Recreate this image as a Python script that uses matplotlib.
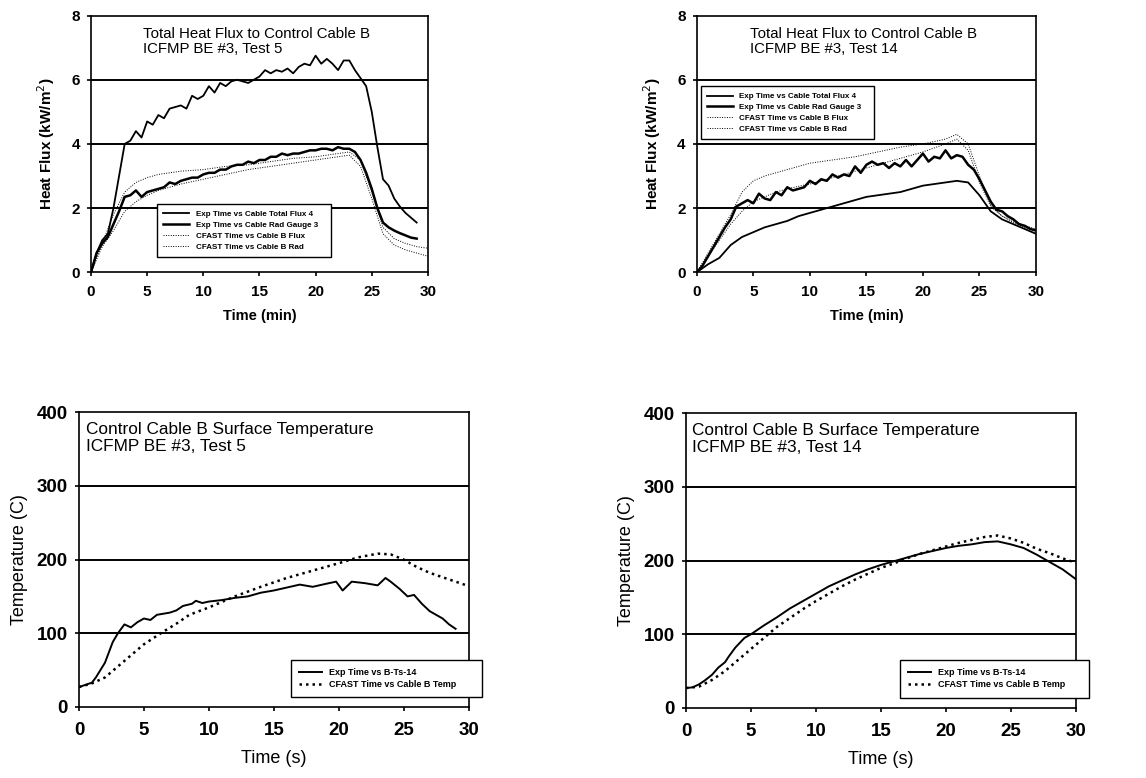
import matplotlib
matplotlib.use("Agg")
import matplotlib.pyplot as plt

plt.rcParams['font.family'] = ['Liberation Sans', 'DejaVu Sans']

# ---- Test 5 heat flux (min, kW/m2) ----
t5_exp = [0, 0.5, 1, 1.5, 2, 2.5, 3, 3.5, 4, 4.5, 5, 5.5, 6, 6.5, 7, 7.5, 8, 8.5, 9, 9.5,
          10, 10.5, 11, 11.5, 12, 12.5, 13, 13.5, 14, 14.5, 15, 15.5, 16, 16.5, 17, 17.5,
          18, 18.5, 19, 19.5, 20, 20.5, 21, 21.5, 22, 22.5, 23, 23.5, 24, 24.5, 25, 25.5,
          26, 26.5, 27, 27.5, 28, 28.5, 29]
t5_total_flux = [0, 0.6, 1.0, 1.2, 2.0, 3.0, 4.0, 4.1, 4.4, 4.2, 4.7, 4.6, 4.9, 4.8, 5.1, 5.15,
                 5.2, 5.1, 5.5, 5.4, 5.5, 5.8, 5.6, 5.9, 5.8, 5.95, 6.0, 5.95, 5.9, 6.0, 6.1,
                 6.3, 6.2, 6.3, 6.25, 6.35, 6.2, 6.4, 6.5, 6.45, 6.75, 6.5, 6.65, 6.5, 6.3, 6.6,
                 6.6, 6.3, 6.05, 5.8, 5.0, 3.9, 2.9, 2.7, 2.3, 2.05, 1.85, 1.7, 1.55]
t5_rad_gauge = [0, 0.6, 0.9, 1.1, 1.5, 1.9, 2.35, 2.4, 2.55, 2.35, 2.5, 2.55, 2.6, 2.65, 2.8,
                2.75, 2.85, 2.9, 2.95, 2.95, 3.05, 3.1, 3.1, 3.2, 3.2, 3.3, 3.35, 3.35, 3.45,
                3.4, 3.5, 3.5, 3.6, 3.6, 3.7, 3.65, 3.7, 3.7, 3.75, 3.8, 3.8, 3.85, 3.85, 3.8,
                3.9, 3.85, 3.85, 3.75, 3.5, 3.1, 2.6, 2.0, 1.55, 1.4, 1.3, 1.22, 1.15, 1.08, 1.05]
t5_cfast = [0, 1, 2, 3, 4, 5, 6, 7, 8, 10, 12, 14, 16, 18, 20, 22, 23, 24, 25, 26, 27, 28, 29, 30]
t5_cfast_flux = [0, 0.9, 1.8, 2.5, 2.8, 2.95, 3.05, 3.1, 3.15, 3.2, 3.3, 3.35, 3.45, 3.55, 3.6,
                 3.7, 3.75, 3.5, 2.5, 1.4, 1.05, 0.9, 0.8, 0.75]
t5_cfast_rad = [0, 0.8, 1.3, 1.9, 2.2, 2.4, 2.55, 2.65, 2.75, 2.9, 3.05, 3.2, 3.3, 3.4, 3.5,
                3.6, 3.65, 3.3, 2.3, 1.2, 0.85, 0.7, 0.6, 0.5]

# ---- Test 14 heat flux ----
t14_total = [0, 1, 2, 3, 4, 5, 6, 7, 8, 9, 10, 11, 12, 13, 14, 15, 16, 17, 18, 19, 20, 21,
             22, 23, 24, 25, 26, 27, 28, 29, 30]
t14_total_flux = [0, 0.25, 0.45, 0.85, 1.1, 1.25, 1.4, 1.5, 1.6, 1.75, 1.85, 1.95, 2.05, 2.15,
                  2.25, 2.35, 2.4, 2.45, 2.5, 2.6, 2.7, 2.75, 2.8, 2.85, 2.8, 2.4, 1.9, 1.65,
                  1.5, 1.35, 1.2]
t14_rad = [0, 0.5, 1, 1.5, 2, 2.5, 3, 3.5, 4, 4.5, 5, 5.5, 6, 6.5, 7, 7.5, 8, 8.5, 9, 9.5, 10,
           10.5, 11, 11.5, 12, 12.5, 13, 13.5, 14, 14.5, 15, 15.5, 16, 16.5, 17, 17.5, 18, 18.5,
           19, 19.5, 20, 20.5, 21, 21.5, 22, 22.5, 23, 23.5, 24, 24.5, 25, 25.5, 26, 26.5, 27,
           27.5, 28, 28.5, 29, 29.5, 30]
t14_rad_gauge = [0, 0.2, 0.5, 0.8, 1.1, 1.4, 1.65, 2.05, 2.15, 2.25, 2.15, 2.45, 2.3, 2.25, 2.5,
                 2.4, 2.65, 2.55, 2.6, 2.65, 2.85, 2.75, 2.9, 2.85, 3.05, 2.95, 3.05, 3.0, 3.3,
                 3.1, 3.35, 3.45, 3.35, 3.4, 3.25, 3.4, 3.3, 3.5, 3.3, 3.5, 3.7, 3.45, 3.6, 3.55,
                 3.8, 3.55, 3.65, 3.6, 3.35, 3.2, 2.9, 2.55, 2.2, 1.95, 1.9, 1.75, 1.65, 1.5,
                 1.45, 1.35, 1.3]
t14_cfast = [0, 1, 2, 3, 4, 5, 6, 7, 8, 9, 10, 12, 14, 16, 18, 20, 22, 23, 24, 25, 26, 27, 28, 29, 30]
t14_cfast_flux = [0, 0.6, 1.2, 1.8, 2.5, 2.85, 3.0, 3.1, 3.2, 3.3, 3.4, 3.5, 3.6, 3.75, 3.9,
                  4.0, 4.15, 4.3, 4.0, 3.0, 2.1, 1.75, 1.6, 1.45, 1.35]
t14_cfast_rad = [0, 0.5, 1.0, 1.5, 1.9, 2.2, 2.35, 2.5, 2.6, 2.68, 2.75, 2.95, 3.15, 3.35, 3.55,
                 3.75, 4.0, 4.15, 3.8, 2.8, 2.05, 1.75, 1.55, 1.4, 1.3]

# ---- Test 5 surface temperature (C) ----
s5_exp = [0, 0.5, 1, 1.3, 2, 2.6, 3, 3.5, 4, 4.5, 5, 5.5, 6, 7, 7.5, 8, 8.7, 9, 9.5, 10, 11,
          12, 13, 14, 15, 16, 17, 18, 19, 19.8, 20.3, 21, 22, 23, 23.6, 24, 24.7, 25.3, 25.8,
          26.4, 27, 28, 28.5, 29]
s5_exp_temp = [27, 30, 33, 40, 60, 88, 100, 112, 108, 115, 120, 118, 125, 128, 131, 137, 140,
               144, 141, 143, 145, 148, 150, 155, 158, 162, 166, 163, 167, 170, 158, 170, 168,
               165, 175, 170, 160, 150, 152, 140, 130, 120, 112, 106]
s5_cfast = [0, 1, 2, 3, 4, 5, 6.3, 7.5, 8.5, 10, 12, 14, 16, 18, 20, 21.5, 23, 24, 25, 26, 27,
            28, 29, 30]
s5_cfast_temp = [27, 32, 40, 55, 70, 85, 100, 113, 125, 135, 150, 163, 175, 185, 195, 203, 208,
                 207, 200, 190, 182, 176, 170, 164]

# ---- Test 14 surface temperature ----
s14_exp = [0, 0.5, 1, 1.5, 2, 2.5, 3, 3.3, 3.8, 4.5, 5, 6, 7, 8, 9, 10, 11, 12, 13, 14, 15,
           16, 17, 18, 19, 20, 21, 22, 23, 24, 25, 26, 27, 28, 29, 30]
s14_exp_temp = [27, 28, 32, 38, 45, 55, 62, 70, 82, 95, 100, 112, 123, 135, 145, 155, 165, 173,
                181, 188, 194, 199, 204, 209, 213, 217, 220, 222, 225, 226, 222, 217, 208, 198,
                188, 175]
s14_cfast = [0, 1, 2, 3, 4, 5, 6, 7, 8, 9, 10, 11, 12, 13, 14, 15, 16, 17, 18, 19, 20, 21, 22,
             23, 24, 25, 26, 27, 28, 29, 30]
s14_cfast_temp = [27, 29, 38, 50, 65, 80, 95, 110, 122, 134, 145, 155, 165, 174, 182, 190, 196,
                  203, 209, 214, 219, 224, 228, 232, 234, 230, 224, 216, 210, 203, 197]


def style_axes(ax, ymax, ystep, fs, pad):
    ax.set_xlim(0, 30)
    ax.set_ylim(0, ymax)
    ax.set_xticks(range(0, 31, 5))
    ax.set_yticks(range(0, ymax + 1, ystep))
    for y in range(ystep, ymax, ystep):
        ax.axhline(y, color='black', lw=1.4, zorder=1)
    for s in ax.spines.values():
        s.set_linewidth(1.2)
    ax.tick_params(direction='out', length=3, width=1.2, labelsize=fs, pad=5)
    ax.tick_params(axis='x', pad=pad)
    for lab in ax.get_xticklabels() + ax.get_yticklabels():
        lab.set_fontweight('bold')


fig = plt.figure(figsize=(11.46, 7.78), dpi=100)

# top-left
ax1 = fig.add_axes([0.0794, 0.650, 0.294, 0.330])
style_axes(ax1, 8, 2, 11, 6)
ax1.plot(t5_exp, t5_total_flux, color='black', lw=1.3, label='Exp Time vs Cable Total Flux 4', zorder=3)
ax1.plot(t5_exp, t5_rad_gauge, color='black', lw=1.8, label='Exp Time vs Cable Rad Gauge 3', zorder=3)
ax1.plot(t5_cfast, t5_cfast_flux, color='black', lw=0.7, ls=(0, (1, 1.5)), label='CFAST Time vs Cable B Flux', zorder=3)
ax1.plot(t5_cfast, t5_cfast_rad, color='black', lw=0.7, ls=(0, (1, 1.5)), label='CFAST Time vs Cable B Rad', zorder=3)
ax1.text(0.154, 0.955, 'Total Heat Flux to Control Cable B\nICFMP BE #3, Test 5',
         transform=ax1.transAxes, fontsize=10.8, va='top', linespacing=1.1)
ax1.set_xlabel('Time (min)', fontsize=10.5, fontweight='bold', labelpad=7)
ax1.set_ylabel('Heat Flux (kW/m$^2$)', fontsize=11, fontweight='bold', labelpad=10)
ax1.legend(loc='lower left', bbox_to_anchor=(0.184, 0.043, 0.54, 0.25), mode='expand',
           frameon=True, fancybox=False, edgecolor='black', framealpha=1,
           handlelength=3.2, borderpad=0.8, labelspacing=0.4, prop={'weight': 'bold', 'size': 5.8})

# top-right
ax2 = fig.add_axes([0.608, 0.650, 0.296, 0.330])
style_axes(ax2, 8, 2, 11, 6)
ax2.plot(t14_total, t14_total_flux, color='black', lw=1.3, label='Exp Time vs Cable Total Flux 4', zorder=3)
ax2.plot(t14_rad, t14_rad_gauge, color='black', lw=1.8, label='Exp Time vs Cable Rad Gauge 3', zorder=3)
ax2.plot(t14_cfast, t14_cfast_flux, color='black', lw=0.7, ls=(0, (1, 1.5)), label='CFAST Time vs Cable B Flux', zorder=3)
ax2.plot(t14_cfast, t14_cfast_rad, color='black', lw=0.7, ls=(0, (1, 1.5)), label='CFAST Time vs Cable B Rad', zorder=3)
ax2.text(0.156, 0.955, 'Total Heat Flux to Control Cable B\nICFMP BE #3, Test 14',
         transform=ax2.transAxes, fontsize=10.8, va='top', linespacing=1.1)
ax2.set_xlabel('Time (min)', fontsize=10.5, fontweight='bold', labelpad=7)
ax2.set_ylabel('Heat Flux (kW/m$^2$)', fontsize=11, fontweight='bold', labelpad=10)
ax2.legend(loc='lower left', bbox_to_anchor=(0.0, 0.502, 0.534, 0.245), mode='expand',
           frameon=True, fancybox=False, edgecolor='black', framealpha=1,
           handlelength=3.2, borderpad=0.8, labelspacing=0.4, prop={'weight': 'bold', 'size': 5.8})

# bottom-left
ax3 = fig.add_axes([0.0689, 0.0913, 0.340, 0.379])
style_axes(ax3, 400, 100, 13.5, 8)
ax3.plot(s5_exp, s5_exp_temp, color='black', lw=1.4, label='Exp Time vs B-Ts-14', zorder=3)
ax3.plot(s5_cfast, s5_cfast_temp, color='black', lw=1.8, ls=(0, (1, 1.6)), label='CFAST Time vs Cable B Temp', zorder=3)
ax3.text(0.018, 0.965, 'Control Cable B Surface Temperature\nICFMP BE #3, Test 5',
         transform=ax3.transAxes, fontsize=12.4, va='top', linespacing=1.15)
ax3.set_xlabel('Time (s)', fontsize=13, labelpad=8)
ax3.set_ylabel('Temperature (C)', fontsize=13, labelpad=6)
ax3.legend(loc='lower left', bbox_to_anchor=(0.533, 0.017, 0.513, 0.156), mode='expand',
           frameon=True, fancybox=False, edgecolor='black', framealpha=1,
           handlelength=2.5, borderpad=0.9, labelspacing=0.4, prop={'weight': 'bold', 'size': 6.5})

# bottom-right
ax4 = fig.add_axes([0.5986, 0.090, 0.340, 0.379])
style_axes(ax4, 400, 100, 13.5, 8)
ax4.plot(s14_exp, s14_exp_temp, color='black', lw=1.4, label='Exp Time vs B-Ts-14', zorder=3)
ax4.plot(s14_cfast, s14_cfast_temp, color='black', lw=1.8, ls=(0, (1, 1.6)), label='CFAST Time vs Cable B Temp', zorder=3)
ax4.text(0.015, 0.965, 'Control Cable B Surface Temperature\nICFMP BE #3, Test 14',
         transform=ax4.transAxes, fontsize=12.4, va='top', linespacing=1.15)
ax4.set_xlabel('Time (s)', fontsize=13, labelpad=8)
ax4.set_ylabel('Temperature (C)', fontsize=13, labelpad=6)
ax4.legend(loc='lower left', bbox_to_anchor=(0.538, 0.02, 0.508, 0.15), mode='expand',
           frameon=True, fancybox=False, edgecolor='black', framealpha=1,
           handlelength=2.5, borderpad=0.9, labelspacing=0.4, prop={'weight': 'bold', 'size': 6.5})

fig.savefig('out.png', dpi=100)
